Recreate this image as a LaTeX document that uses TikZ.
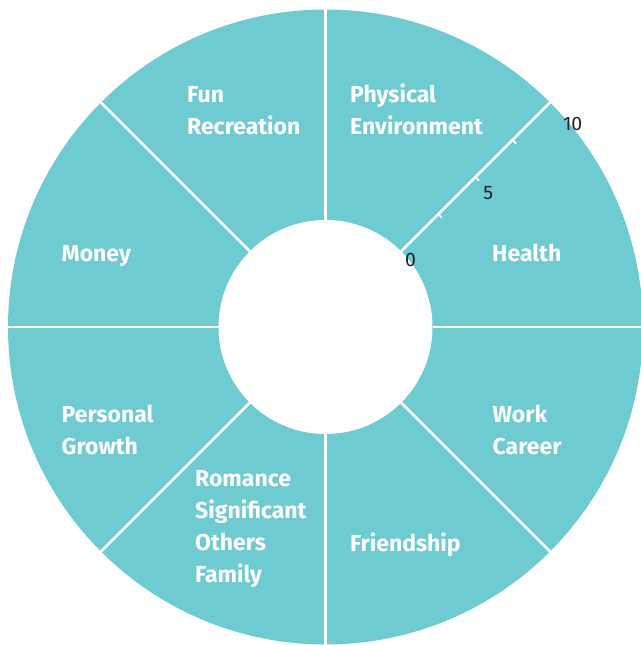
\documentclass[tikz,border=0pt]{standalone}
\usepackage{fontspec}
\usetikzlibrary{calc}
\setmainfont{Fira Sans}
\definecolor{teal}{HTML}{6FCBD2}
\definecolor{numgray}{HTML}{222222}
\begin{document}
\begin{tikzpicture}[x=1pt,y=1pt,
  lab/.style={anchor=base west,inner sep=0pt,align=left,text=white,
    font=\fontsize{23}{32}\selectfont\bfseries},
  num/.style={inner sep=0pt,text=numgray,font=\fontsize{19.5}{19.5}\selectfont},
  divider/.style={white,line width=2.5pt},
  tick/.style={white,line width=1.8pt}]
\useasboundingbox (0,0) rectangle (640,645);
\coordinate (c) at (325.5,318);
\fill[teal] (c) circle (317.5);
\fill[white] (c) circle (107);
\foreach \a in {0,45,...,315}
  \draw[divider] ($(c)+(\a:107)$) -- ($(c)+(\a:320)$);
\foreach \r in {159.5,212,264.5}
  \draw[tick] ($(c)+(45:\r)$) -- ++(-45:5);
\node[num] (n0) at (410.5,385) {0};
\node[num] (n5) at (488.3,452.3) {5};
\node[num] (n10) at (572.7,520.7) {10};
% base anchor = baseline of the last line
\node[lab] (fun) at (187,510) {Fun\\Recreation};
\node[lab] (phys) at (350,510) {Physical\\Environment};
\node[lab] (money) at (61.5,383) {Money};
\node[lab] (health) at (492,383) {Health};
\node[lab] (pers) at (61.5,190) {Personal\\Growth};
\node[lab] (work) at (492.5,190) {Work\\Career};
\node[lab] (rom) at (195,62) {Romance\\Significant\\Others\\Family};
\node[lab] (friend) at (350,93.5) {Friendship};
\end{tikzpicture}
\end{document}
